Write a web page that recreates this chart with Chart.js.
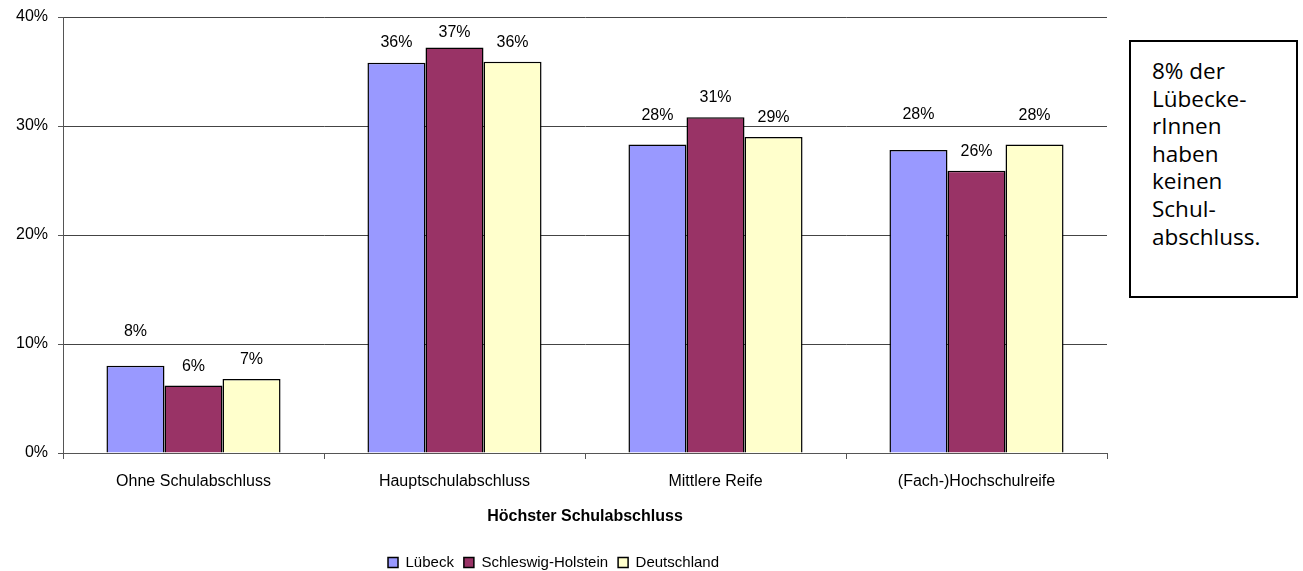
<!DOCTYPE html>
<html>
<head>
<meta charset="utf-8">
<script src="https://cdn.jsdelivr.net/npm/chart.js@4"></script>
<style>
    html, body { margin: 0; padding: 0; background: #fff; overflow: hidden; }
    #wrap { position: relative; width: 1303px; height: 571px; }
    #chartBox { position: absolute; left: 0; top: 0; width: 1110px; height: 580px; }
    #note {
        position: absolute; left: 1129px; top: 40px; width: 169px; height: 258px;
        box-sizing: border-box; border: 2px solid #000; background: #fff;
        padding: 15px 0 0 21px;
        font-family: 'Open Sans', sans-serif; font-size: 22.5px; line-height: 27.6px; color: #000;
    }
</style>
</head>
<body>
<div id="wrap">
    <div id="chartBox"><canvas id="schoolChart" width="1110" height="580"></canvas></div>
    <div id="note">8% der<br>Lübecke-<br>rInnen<br>haben<br>keinen<br>Schul-<br>abschluss.</div>
</div>
<script>
const categories = ['Ohne Schulabschluss', 'Hauptschulabschluss', 'Mittlere Reife', '(Fach-)Hochschulreife'];
const seriesNames = ['Lübeck', 'Schleswig-Holstein', 'Deutschland'];
const luebeck = [8.0, 35.8, 28.3, 27.8];
const schleswigHolstein = [6.2, 37.2, 30.8, 25.9];
const deutschland = [6.8, 35.9, 29.0, 28.3];
const yTicks = [0, 10, 20, 30, 40];

const FONT = "'Liberation Sans', Arial, sans-serif";

// draws the rounded percentage above every bar
const valueLabels = {
    id: 'valueLabels',
    afterDatasetsDraw(chart) {
        const ctx = chart.ctx;
        ctx.save();
        ctx.font = '16px ' + FONT;
        ctx.fillStyle = '#000';
        ctx.textAlign = 'center';
        ctx.textBaseline = 'middle';
        chart.data.datasets.forEach((ds, di) => {
            const meta = chart.getDatasetMeta(di);
            meta.data.forEach((bar, i) => {
                const lift = ds.labelLift ? ds.labelLift[i] : 19;
                ctx.fillText(Math.round(ds.data[i]) + '%', bar.x, bar.y - lift);
            });
        });
        ctx.restore();
    }
};

document.addEventListener('DOMContentLoaded', function() {
    const ctx = document.getElementById('schoolChart').getContext('2d');

    new Chart(ctx, {
        type: 'bar',
        data: {
            labels: categories,
            datasets: [
                {
                    label: seriesNames[0],
                    data: luebeck,
                    backgroundColor: '#9999ff',
                    borderColor: '#000',
                    borderWidth: 1.5,
                    labelLift: [34, 20, 29, 35]
                },
                {
                    label: seriesNames[1],
                    data: schleswigHolstein,
                    backgroundColor: '#993366',
                    borderColor: '#000',
                    borderWidth: 1.5,
                    labelLift: [19, 15, 20, 19]
                },
                {
                    label: seriesNames[2],
                    data: deutschland,
                    backgroundColor: '#ffffcc',
                    borderColor: '#000',
                    borderWidth: 1.5,
                    labelLift: [19, 19, 19, 29]
                }
            ]
        },
        options: {
            responsive: false,
            animation: false,
            events: [],
            layout: { padding: { top: 17, right: 3, left: 0, bottom: 0 } },
            datasets: {
                bar: { categoryPercentage: 0.667, barPercentage: 1 }
            },
            plugins: {
                tooltip: { enabled: false },
                legend: {
                    position: 'bottom',
                    labels: {
                        boxWidth: 10,
                        boxHeight: 10,
                        padding: 10,
                        color: '#000',
                        font: { family: FONT, size: 15 }
                    }
                }
            },
            scales: {
                x: {
                    afterFit: function(scale) { scale.height = 92; },
                    grid: {
                        drawOnChartArea: false,
                        drawTicks: true,
                        tickLength: 6,
                        color: '#555'
                    },
                    border: { color: '#555' },
                    ticks: {
                        color: '#000',
                        padding: 13,
                        maxRotation: 0,
                        font: { family: FONT, size: 16 }
                    },
                    title: {
                        display: true,
                        text: 'Höchster Schulabschluss',
                        color: '#000',
                        font: { family: FONT, size: 16, weight: 'bold' },
                        padding: { top: 0, bottom: 19 }
                    }
                },
                y: {
                    min: 0,
                    max: 40,
                    afterFit: function(scale) {
                        scale.width = 63;
                        scale.paddingTop = 0;
                        scale.paddingBottom = 0;
                    },
                    afterBuildTicks: function(scale) {
                        scale.ticks = yTicks.map(v => ({ value: v }));
                    },
                    grid: {
                        color: '#444',
                        tickLength: 5,
                        tickColor: '#555'
                    },
                    border: { color: '#555' },
                    ticks: {
                        color: '#000',
                        padding: 10,
                        font: { family: FONT, size: 16 },
                        callback: function(value) { return value + '%'; }
                    }
                }
            }
        },
        plugins: [valueLabels]
    });
});
</script>
</body>
</html>
